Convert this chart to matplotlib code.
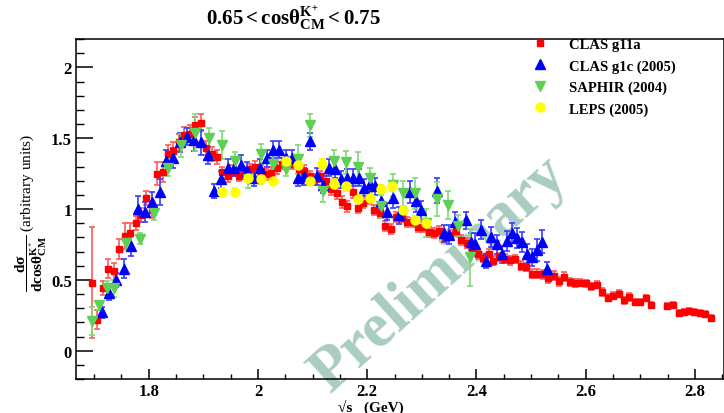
import matplotlib
matplotlib.use("Agg")
import matplotlib.pyplot as plt
from matplotlib.lines import Line2D
from matplotlib.ticker import MultipleLocator

plt.rcParams['font.family'] = ['Liberation Serif', 'DejaVu Serif']
plt.rcParams['font.weight'] = 'bold'
plt.rcParams['mathtext.fontset'] = 'custom'
plt.rcParams['mathtext.rm'] = 'Liberation Serif:bold'
plt.rcParams['mathtext.it'] = 'Liberation Serif:bold:italic'
plt.rcParams['mathtext.bf'] = 'Liberation Serif:bold'
plt.rcParams['mathtext.default'] = 'rm'

# CLAS g11a (red squares)
red_x = [1.696, 1.706, 1.716, 1.726, 1.736, 1.746, 1.756, 1.766, 1.776, 1.786,
         1.796, 1.806, 1.816, 1.826, 1.836, 1.845, 1.855, 1.865, 1.875, 1.885,
         1.895, 1.905, 1.915, 1.925, 1.935, 1.945, 1.955, 1.965, 1.975, 1.985,
         1.995, 2.005, 2.014, 2.024, 2.035, 2.044, 2.054, 2.064, 2.075, 2.085,
         2.095, 2.105, 2.114, 2.124, 2.134, 2.144, 2.154, 2.163, 2.174, 2.184,
         2.193, 2.203, 2.213, 2.223, 2.233, 2.243, 2.253, 2.263, 2.272, 2.283,
         2.293, 2.302, 2.313, 2.322, 2.332, 2.342, 2.352, 2.362, 2.372, 2.382,
         2.392, 2.402, 2.412, 2.422, 2.431, 2.441, 2.452, 2.462, 2.471, 2.481,
         2.491, 2.501, 2.511, 2.521, 2.531, 2.541, 2.551, 2.561, 2.571, 2.581,
         2.590, 2.601, 2.610, 2.620, 2.630, 2.640, 2.650, 2.660, 2.670, 2.680,
         2.690, 2.700, 2.710, 2.720, 2.749, 2.759, 2.770, 2.779, 2.789, 2.799,
         2.809, 2.819, 2.829]
red_y = [0.48, 0.22, 0.44, 0.58, 0.56, 0.72, 0.81, 0.83, 0.90, 0.96,
         1.08, 0.99, 1.25, 1.26, 1.39, 1.41, 1.47, 1.52, 1.53, 1.59,
         1.61, 1.43, 1.39, 1.37, 1.26, 1.23, 1.27, 1.235, 1.255, 1.28,
         1.30, 1.27, 1.245, 1.255, 1.29, 1.32, 1.33, 1.32, 1.28, 1.27,
         1.23, 1.21, 1.23, 1.20, 1.14, 1.11, 1.05, 1.02, 1.12, 1.01,
         1.04, 1.07, 0.995, 0.97, 0.88, 0.86, 0.945, 0.94, 0.91, 0.905,
         0.875, 0.875, 0.835, 0.83, 0.845, 0.80, 0.82, 0.845, 0.78, 0.76,
         0.71, 0.68, 0.655, 0.685, 0.636, 0.66, 0.65, 0.638, 0.647, 0.60,
         0.589, 0.544, 0.544, 0.539, 0.511, 0.53, 0.49, 0.523, 0.485, 0.476,
         0.48, 0.476, 0.454, 0.464, 0.414, 0.374, 0.389, 0.403, 0.355, 0.379,
         0.344, 0.344, 0.37, 0.322, 0.313, 0.325, 0.264, 0.273, 0.28, 0.273,
         0.266, 0.261, 0.233]
red_err = [0.39, 0.07, 0.05, 0.07, 0.06, 0.07, 0.09, 0.07, 0.05, 0.05,
           0.05, 0.05, 0.08, 0.07, 0.06, 0.06, 0.06, 0.06, 0.06, 0.06,
           0.06, 0.05, 0.05, 0.05, 0.04, 0.04, 0.04, 0.04, 0.04, 0.04,
           0.04, 0.04, 0.04, 0.04, 0.04, 0.04, 0.04, 0.04, 0.04, 0.04,
           0.04, 0.04, 0.04, 0.04, 0.04, 0.04, 0.04, 0.04, 0.04, 0.04,
           0.035, 0.035, 0.035, 0.035, 0.035, 0.035, 0.035, 0.035, 0.035, 0.035,
           0.035, 0.035, 0.035, 0.035, 0.035, 0.035, 0.035, 0.035, 0.035, 0.035,
           0.03, 0.03, 0.03, 0.03, 0.03, 0.03, 0.03, 0.03, 0.03, 0.03,
           0.03, 0.03, 0.03, 0.03, 0.03, 0.03, 0.03, 0.03, 0.03, 0.03,
           0.025, 0.025, 0.025, 0.025, 0.025, 0.025, 0.025, 0.025, 0.025, 0.025,
           0.02, 0.02, 0.02, 0.02, 0.02, 0.02, 0.02, 0.02, 0.02, 0.02,
           0.02, 0.02, 0.02]

# CLAS g1c (2005) (blue triangles)
blue_x = [1.714, 1.728, 1.741, 1.755, 1.768, 1.781, 1.794, 1.807, 1.820, 1.832,
          1.845, 1.858, 1.870, 1.883, 1.896, 1.908, 1.920, 1.933, 1.945, 1.957,
          1.969, 1.980, 1.992, 2.004, 2.016, 2.027, 2.039, 2.051, 2.063, 2.074,
          2.085, 2.096, 2.108, 2.119, 2.130, 2.141, 2.152, 2.163, 2.174, 2.185,
          2.195, 2.205, 2.215, 2.226, 2.237, 2.247, 2.258, 2.278, 2.289, 2.299,
          2.328, 2.340, 2.350, 2.360, 2.380, 2.390, 2.397, 2.408, 2.418, 2.426,
          2.437, 2.446, 2.455, 2.465, 2.474, 2.483, 2.492, 2.502, 2.511, 2.520,
          2.529]
blue_y = [0.27, 0.41, 0.50, 0.58, 0.74, 1.00, 0.98, 1.05, 1.12, 1.34,
          1.36, 1.47, 1.51, 1.49, 1.47, 1.38, 1.13, 1.21, 1.29, 1.29,
          1.31, 1.27, 1.22, 1.29, 1.36, 1.42, 1.42, 1.36, 1.36, 1.22,
          1.23, 1.48, 1.23, 1.17, 1.29, 1.28, 1.21, 1.22, 1.22, 1.22,
          1.15, 1.18, 1.16, 1.06, 0.98, 1.08, 0.955, 1.12, 1.06, 0.99,
          1.13, 0.83, 0.82, 0.91, 0.92, 0.77, 0.75, 0.855, 0.635, 0.80,
          0.75, 0.68, 0.775, 0.83, 0.795, 0.77, 0.685, 0.66, 0.71, 0.77,
          0.575]
blue_err = [0.04, 0.05, 0.05, 0.07, 0.07, 0.09, 0.07, 0.07, 0.09, 0.08,
            0.07, 0.07, 0.06, 0.08, 0.09, 0.06, 0.05, 0.06, 0.06, 0.06,
            0.07, 0.06, 0.06, 0.06, 0.06, 0.06, 0.06, 0.06, 0.06, 0.06,
            0.06, 0.06, 0.06, 0.06, 0.06, 0.06, 0.06, 0.06, 0.06, 0.06,
            0.06, 0.06, 0.06, 0.06, 0.06, 0.07, 0.06, 0.08, 0.08, 0.07,
            0.09, 0.06, 0.07, 0.07, 0.06, 0.06, 0.08, 0.07, 0.05, 0.07,
            0.07, 0.06, 0.07, 0.07, 0.07, 0.07, 0.07, 0.06, 0.08, 0.08,
            0.05]

# SAPHIR (2004) (green down triangles)
green_x = [1.696, 1.710, 1.724, 1.737, 1.758, 1.784, 1.810, 1.835, 1.860, 1.885,
           1.910, 1.934, 1.958, 1.982, 2.005, 2.028, 2.052, 2.073, 2.096, 2.119,
           2.140, 2.162, 2.184, 2.205, 2.226, 2.247, 2.266, 2.288, 2.308, 2.327,
           2.347, 2.367, 2.388]
green_y = [0.21, 0.32, 0.44, 0.44, 0.76, 0.79, 0.97, 1.29, 1.45, 1.54,
           1.50, 1.45, 1.34, 1.21, 1.39, 1.32, 1.28, 1.35, 1.59, 1.13,
           1.34, 1.33, 1.30, 1.22, 1.02, 1.17, 1.11, 1.11, 0.90, 1.07,
           1.03, 0.88, 0.66]
green_err = [0.10, 0.03, 0.05, 0.06, 0.05, 0.04, 0.05, 0.06, 0.08, 0.13,
             0.07, 0.10, 0.06, 0.06, 0.07, 0.07, 0.05, 0.10, 0.08, 0.08,
             0.08, 0.08, 0.10, 0.07, 0.08, 0.08, 0.09, 0.11, 0.10, 0.12,
             0.10, 0.08, 0.20]

# LEPS (2005) (yellow circles)
yellow_x = [1.934, 1.958, 1.982, 2.005, 2.028, 2.051, 2.074, 2.096, 2.118,
            2.140, 2.162, 2.184, 2.205, 2.226, 2.246, 2.266, 2.288, 2.308]
yellow_y = [1.12, 1.12, 1.22, 1.21, 1.20, 1.34, 1.31, 1.20, 1.32,
            1.18, 1.16, 1.07, 1.08, 1.14, 1.16, 0.99, 0.92, 0.90]
yellow_err = [0.03, 0.03, 0.03, 0.03, 0.03, 0.03, 0.03, 0.03, 0.03,
              0.03, 0.03, 0.03, 0.03, 0.03, 0.03, 0.03, 0.03, 0.03]

fig = plt.figure(figsize=(7.24, 4.14), dpi=100)
ax = fig.add_axes([76 / 724, 34 / 414, 648 / 724, 340 / 414])

# watermark under the data
ax.text(0.562, 0.309, 'Preliminary', transform=ax.transAxes, rotation=42,
        fontsize=45, fontweight='bold', color='#a9cdc0', ha='center', va='center',
        zorder=0, clip_on=False)

series = [
    (red_x, red_y, red_err, 's', 4.3, '#ff0000', '#ff5a5a'),
    (blue_x, blue_y, blue_err, '^', 7, '#0000ff', '#3a3aff'),
    (green_x, green_y, green_err, 'v', 7, '#5fcf55', '#7fd877'),
    (yellow_x, yellow_y, yellow_err, 'o', 6.5, '#ffff00', '#f5f000'),
]
for xs, ys, es, mk, ms, col, ecol in series:
    ax.errorbar(xs, ys, yerr=es, fmt=mk, ms=ms, color=col, mec=col, ecolor=ecol,
                elinewidth=1.2, capsize=2, capthick=1.2, zorder=3)

ax.set_xlim(1.667, 2.853)
ax.set_ylim(-0.2, 2.2)
ax.xaxis.set_major_locator(MultipleLocator(0.2))
ax.xaxis.set_minor_locator(MultipleLocator(0.05))
ax.yaxis.set_major_locator(MultipleLocator(0.5))
ax.yaxis.set_minor_locator(MultipleLocator(0.1))
ax.xaxis.set_major_formatter(plt.FuncFormatter(lambda v, p: f'{v:g}'))
ax.yaxis.set_major_formatter(plt.FuncFormatter(lambda v, p: f'{v:g}'))
ax.tick_params(axis='x', which='major', direction='in', length=7.5, width=1.1,
               labelsize=12, pad=3)
ax.tick_params(axis='x', which='minor', direction='in', length=3.8, width=1.0)
ax.tick_params(axis='y', which='major', direction='in', length=12, width=1.1,
               labelsize=12, pad=3)
ax.tick_params(axis='y', which='minor', direction='in', length=6, width=1.0)
for lab in ax.get_xticklabels() + ax.get_yticklabels():
    lab.set_fontweight('bold')
for sp in ax.spines.values():
    sp.set_linewidth(1.1)

ax.set_xlabel('\u221As   (GeV)', fontsize=11, fontweight='bold', labelpad=0)
ax.xaxis.set_label_coords(0.455, -0.058)

fig.text(31 / 724, 1 - 213 / 414,
         r'$\dfrac{d\sigma}{d\mathrm{cos}\theta^{K^{+}}_{CM}}$ (arbitrary units)',
         rotation=90, fontsize=11, fontweight='normal', ha='center', va='center')

fig.text(293 / 724, 1 - 18 / 414, r'$0.65 < \mathrm{cos}\theta^{K^{+}}_{CM} < 0.75$',
         fontsize=15, fontweight='bold', ha='center', va='center')

handles = [
    Line2D([], [], ls='none', marker='s', ms=4.3, color='#ff0000'),
    Line2D([], [], ls='none', marker='^', ms=7, color='#0000ff'),
    Line2D([], [], ls='none', marker='v', ms=7, color='#5fcf55'),
    Line2D([], [], ls='none', marker='o', ms=6.5, color='#ffff00'),
]
labels = ['CLAS g11a', 'CLAS g1c (2005)', 'SAPHIR (2004)', 'LEPS (2005)']
fig.legend(handles, labels, loc='upper left', bbox_to_anchor=(533 / 724, 1 - 39 / 414),
           frameon=False, borderpad=0, borderaxespad=0, handlelength=1.0,
           handletextpad=1.5, labelspacing=0.55,
           prop={'family': 'Liberation Serif', 'weight': 'bold', 'size': 10.5})

fig.savefig('out.png', dpi=100)
